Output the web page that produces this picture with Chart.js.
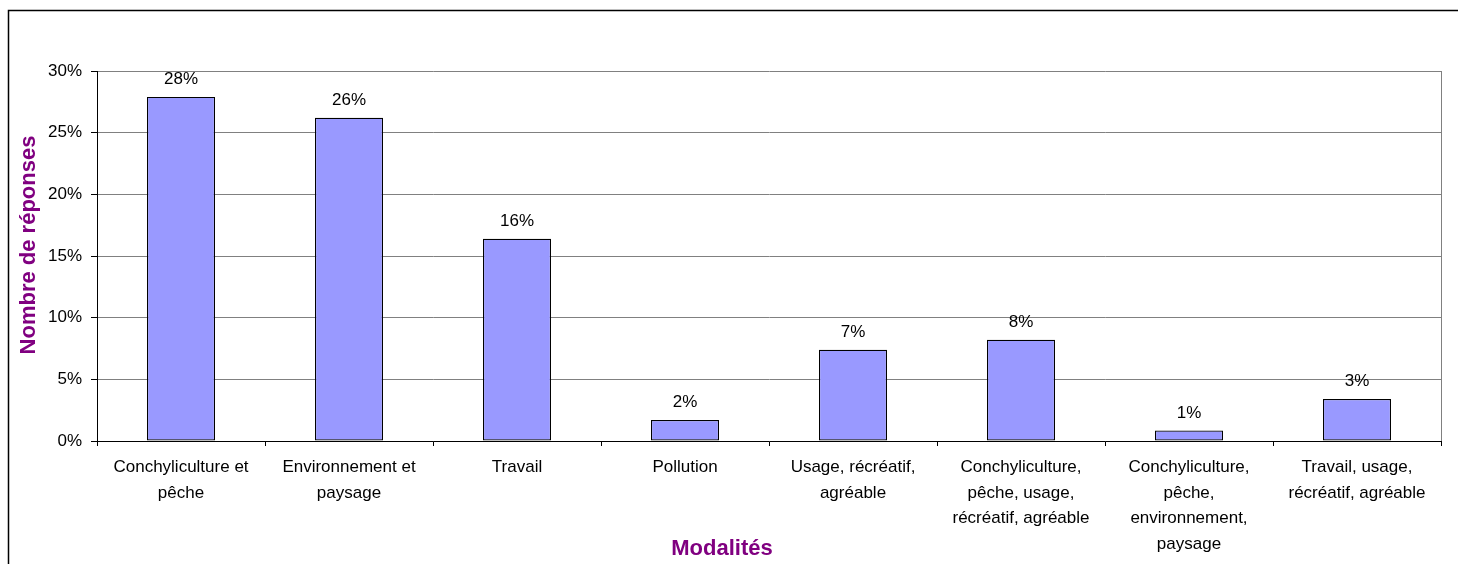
<!DOCTYPE html>
<html lang="fr">
<head>
<meta charset="UTF-8">
<title>Modalités</title>
<script src="https://cdn.jsdelivr.net/npm/chart.js"></script>
<style>
  html, body { margin: 0; padding: 0; background: #fff; }
  #wrap { width: 1458px; height: 564px; }
</style>
</head>
<body>
<div id="wrap"><canvas id="chart"></canvas></div>
<script>
// categories (multi-line labels as in the original)
const categories = [
  ['Conchyliculture et', 'pêche'],
  ['Environnement et', 'paysage'],
  ['Travail'],
  ['Pollution'],
  ['Usage, récréatif,', 'agréable'],
  ['Conchyliculture,', 'pêche, usage,', 'récréatif, agréable'],
  ['Conchyliculture,', 'pêche,', 'environnement,', 'paysage'],
  ['Travail, usage,', 'récréatif, agréable']
];
// share of answers, in %
const values = [27.9, 26.2, 16.4, 1.7, 7.4, 8.2, 0.85, 3.4];
const yTicks = [0, 5, 10, 15, 20, 25, 30];

const FONT = 'Arial, "Liberation Sans", sans-serif';
const PURPLE = '#800080';

const decor = {
  id: 'decor',
  beforeDraw(chart) {
    const ctx = chart.ctx;
    ctx.save();
    ctx.fillStyle = '#fff';
    ctx.fillRect(0, 0, chart.width, chart.height);
    // outer frame (left + top visible)
    ctx.strokeStyle = '#000';
    ctx.lineWidth = 1.5;
    ctx.beginPath();
    ctx.moveTo(8.5, chart.height + 2);
    ctx.lineTo(8.5, 10.5);
    ctx.lineTo(chart.width + 2, 10.5);
    ctx.stroke();
    ctx.restore();
  },
  afterDatasetsDraw(chart) {
    const ctx = chart.ctx;
    const area = chart.chartArea;
    ctx.save();
    // right border of plot area
    ctx.strokeStyle = '#808080';
    ctx.lineWidth = 1;
    ctx.beginPath();
    ctx.moveTo(Math.round(area.right) + 0.5, area.top);
    ctx.lineTo(Math.round(area.right) + 0.5, area.bottom);
    ctx.stroke();

    // value labels
    ctx.fillStyle = '#000';
    ctx.font = '17px ' + FONT;
    ctx.textAlign = 'center';
    ctx.textBaseline = 'alphabetic';
    chart.getDatasetMeta(0).data.forEach((bar, i) => {
      ctx.fillText(Math.round(values[i]) + '%', bar.x, bar.y - 13);
    });

    // axis titles
    ctx.fillStyle = PURPLE;
    ctx.font = 'bold 22px ' + FONT;
    ctx.fillText('Modalités', 722, 555);
    ctx.translate(35, 245);
    ctx.rotate(-Math.PI / 2);
    ctx.fillText('Nombre de réponses', 0, 0);
    ctx.restore();
  }
};

new Chart(document.getElementById('chart'), {
  type: 'bar',
  data: {
    labels: categories,
    datasets: [{
      data: values,
      backgroundColor: '#9999FF',
      borderColor: '#000',
      borderWidth: 1.2,
      borderSkipped: false,
      barPercentage: 0.405,
      categoryPercentage: 1
    }]
  },
  options: {
    responsive: true,
    maintainAspectRatio: false,
    animation: false,
    layout: { padding: { top: 71, right: 17, left: 0, bottom: 0 } },
    plugins: {
      legend: { display: false },
      tooltip: { enabled: false }
    },
    scales: {
      x: {
        grid: {
          offset: true,
          drawOnChartArea: false,
          drawTicks: true,
          tickLength: 5,
          color: '#000'
        },
        border: { color: '#000', width: 1 },
        ticks: {
          color: '#000',
          font: { family: FONT, size: 17, lineHeight: 1.5 },
          padding: 9,
          maxRotation: 0,
          autoSkip: false
        },
        afterFit(scale) { scale.height = 123; }
      },
      y: {
        min: 0,
        max: 30,
        afterBuildTicks(scale) { scale.ticks = yTicks.map(v => ({ value: v })); },
        grid: {
          color: '#808080',
          tickColor: '#000',
          tickLength: 6,
          lineWidth: 1
        },
        border: { color: '#000', width: 1 },
        ticks: {
          color: '#000',
          font: { family: FONT, size: 17 },
          padding: 9,
          callback: v => v + '%'
        },
        afterFit(scale) { scale.width = 97; }
      }
    }
  },
  plugins: [decor]
});
</script>
</body>
</html>
